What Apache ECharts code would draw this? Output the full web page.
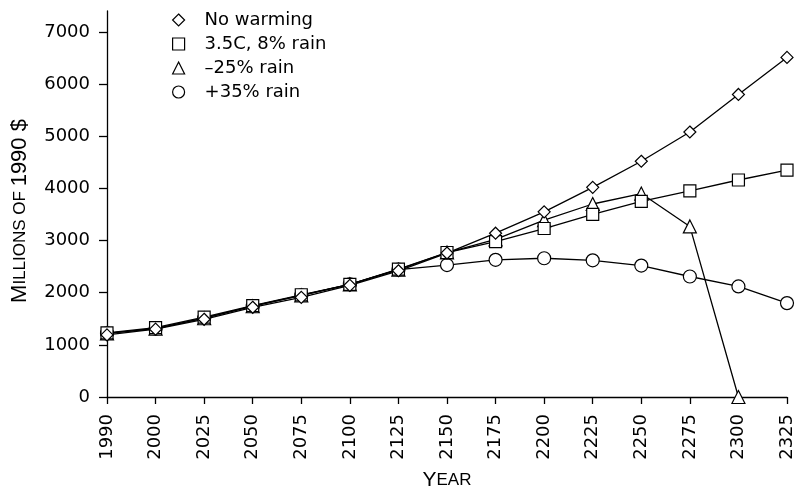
<!DOCTYPE html>
<html>
<head>
<meta charset="utf-8">
<script src="https://cdn.jsdelivr.net/npm/echarts@6/dist/echarts.min.js"></script>
<style>html,body{margin:0;padding:0;background:#fff}#c{width:797px;height:489px}</style>
</head>
<body>
<div id="c"></div>
<script>
var years = ['1990','2000','2025','2050','2075','2100','2125','2150','2175','2200','2225','2250','2275','2300','2325'];
var noWarming = [1190,1300,1490,1720,1910,2140,2420,2760,3140,3550,4020,4520,5080,5800,6510];
var warm35C8rain = [1230,1330,1530,1750,1960,2160,2450,2770,2980,3230,3500,3750,3950,4160,4350];
var minus25rain = [1220,1310,1510,1740,1950,2160,2440,2770,3020,3390,3700,3900,3270,0,'-'];
var plus35rain = [1220,1310,1510,1740,1950,2160,2440,2530,2630,2660,2620,2520,2310,2120,1800];
var yTicks = [0,1000,2000,3000,4000,5000,6000,7000];

var FONT = 'DejaVu Sans';
var NFONT = 'Liberation Sans';
var chart = echarts.init(document.getElementById('c'));
function mk(name, data, symbol, size) {
  return {
    name: name, type: 'line', data: data, symbol: symbol, symbolSize: size,
    showAllSymbol: true, connectNulls: false,
    lineStyle: {color: '#000', width: 1.3},
    itemStyle: {color: '#fff', borderColor: '#000', borderWidth: 1.2},
    emphasis: {disabled: true}
  };
}
chart.setOption({
  animation: false,
  backgroundColor: '#fff',
  textStyle: {fontFamily: FONT},
  grid: {left: 107, right: 10, top: 11, bottom: 92, containLabel: false, outerBoundsMode: 'none'},
  legend: {
    orient: 'vertical', left: 172, top: 11, padding: 0, itemWidth: 12, itemHeight: 12, itemGap: 6,
    selectedMode: false,
    itemStyle: {color: '#fff', borderColor: '#000', borderWidth: 1.2},
    textStyle: {fontFamily: FONT, fontSize: 18, color: '#000', lineHeight: 18, padding: [0,0,0,15]},
    data: [
      {name: 'No warming', icon: 'diamond'},
      {name: '3.5C, 8% rain', icon: 'rect'},
      {name: '\u201325% rain', icon: 'triangle'},
      {name: '+35% rain', icon: 'circle'}
    ]
  },
  xAxis: {
    type: 'category', data: years, boundaryGap: false,
    name: '{b|Y}{s|EAR}', nameLocation: 'middle', nameGap: 73,
    nameTextStyle: {rich: {b: {fontSize: 21, fontFamily: NFONT, color: '#000'}, s: {fontSize: 17, fontFamily: NFONT, color: '#000'}}},
    axisLine: {lineStyle: {color: '#000', width: 1.3}},
    axisTick: {alignWithLabel: true, interval: 0, length: 7, lineStyle: {color: '#000', width: 1.3}},
    axisLabel: {rotate: 90, interval: 0, margin: 17, fontSize: 18, color: '#000', fontFamily: FONT},
    splitLine: {show: false}
  },
  yAxis: {
    type: 'value', min: 0, max: 7400,
    name: '{b|M}{s|ILLIONS OF }{b|1990 $}', nameLocation: 'middle', nameGap: 76,
    nameTextStyle: {padding: [0,14,0,0], rich: {b: {fontSize: 22, fontFamily: NFONT, color: '#000'}, s: {fontSize: 17, fontFamily: NFONT, color: '#000'}}},
    axisLine: {show: true, lineStyle: {color: '#000', width: 1.3}},
    axisTick: {show: true, length: 8, customValues: yTicks, lineStyle: {color: '#000', width: 1.3}},
    axisLabel: {margin: 17, fontSize: 18, color: '#000', fontFamily: FONT, customValues: yTicks,
      formatter: function (v) { return String(v); }},
    splitLine: {show: false}
  },
  series: [
    mk('+35% rain', plus35rain, 'circle', 13),
    mk('\u201325% rain', minus25rain, 'triangle', 13),
    mk('3.5C, 8% rain', warm35C8rain, 'rect', 12),
    mk('No warming', noWarming, 'diamond', 12)
  ]
});
</script>
</body>
</html>
